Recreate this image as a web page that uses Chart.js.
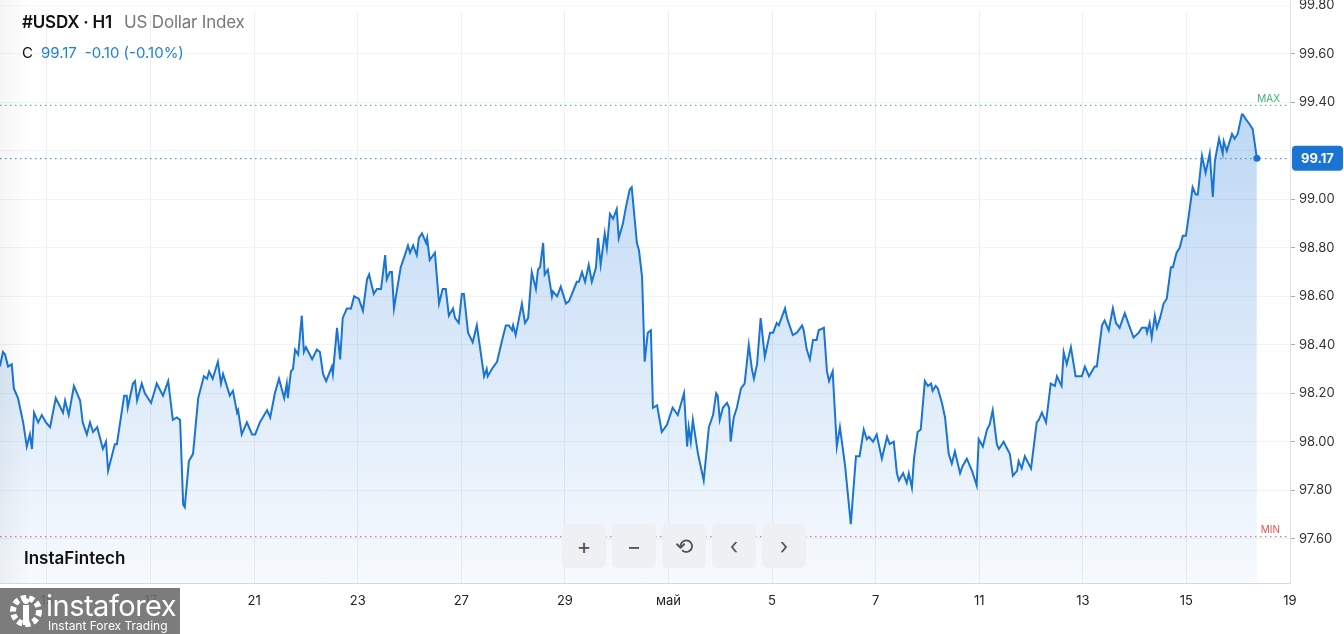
<!DOCTYPE html>
<html><head><meta charset="utf-8">
<script src="https://cdn.jsdelivr.net/npm/chart.js@4.4.1/dist/chart.umd.min.js"></script>
<style>
html,body{margin:0;padding:0;background:#fff;overflow:hidden;font-family:Inter,Roboto,sans-serif}
#wrap{position:relative;width:1344px;height:634px}
canvas{position:absolute;left:0;top:0}
.hdr{position:absolute;left:22px;top:12px;font-size:17px;color:#111;font-weight:600;letter-spacing:-0.2px}
.hdr span{color:#777;font-weight:400;margin-left:12px}
.sub{position:absolute;left:22px;top:43px;font-size:15px;color:#111}
.sub span{color:#1e7fd8;margin-left:8px}
.wm{position:absolute;left:24px;top:548px;font-size:17px;font-weight:600;color:#111}
.btn{position:absolute;top:524px;width:44px;height:44px;border-radius:5px;background:#eef0f3;color:#555;font-size:22px;display:flex;align-items:center;justify-content:center}
.logo{position:absolute;left:0;top:588px;width:180px;height:46px;background:rgba(110,110,110,0.9);color:#fff}
.logo .a{position:absolute;left:46px;top:0px;font-size:29px;letter-spacing:-0.5px}
.logo .b{position:absolute;left:48px;top:30px;font-size:12px}
.fade{position:absolute;left:0;top:0;width:30px;height:583px;background:linear-gradient(to right,rgba(0,0,0,0.04),rgba(255,255,255,0))}
</style></head><body>
<div id="wrap">
<canvas id="c" width="1344" height="634"></canvas>
<div class="fade"></div>
<div class="hdr">#USDX · H1<span>US Dollar Index</span></div>
<div class="sub">C<span>99.17</span><span>-0.10 (-0.10%)</span></div>
<div class="wm">InstaFintech</div>
<div class="btn" style="left:562px">+</div>
<div class="btn" style="left:612px">−</div>
<div class="btn" style="left:662px">⟲</div>
<div class="btn" style="left:712px">‹</div>
<div class="btn" style="left:762px">›</div>
<div class="logo"><svg style="position:absolute;left:8px;top:5px" width="36" height="36" viewBox="0 0 36 36"><circle cx="18" cy="18" r="13" fill="none" stroke="#fff" stroke-width="6" stroke-dasharray="5 3"/><rect x="15" y="12" width="6" height="20" fill="#fff"/><circle cx="18" cy="8" r="3" fill="#fff"/></svg><div class="a">instaforex</div><div class="b">Instant Forex Trading</div></div>
</div>
<script>
// time in trading days from the 15th; values of the index
const times = [-0.91,-0.85,-0.81,-0.75,-0.68,-0.64,-0.56,-0.46,-0.39,-0.33,-0.29,-0.25,-0.17,-0.10,-0.02,0.06,0.17,0.31,0.35,0.42,0.52,0.64,0.69,0.77,0.83,0.89,0.97,1.08,1.14,1.18,1.31,1.35,1.49,1.54,1.56,1.66,1.70,1.74,1.83,1.89,2.01,2.12,2.24,2.34,2.43,2.51,2.57,2.63,2.66,2.74,2.82,2.92,3.03,3.09,3.13,3.20,3.30,3.36,3.40,3.53,3.59,3.67,3.69,3.76,3.86,3.96,4.02,4.11,4.25,4.31,4.40,4.48,4.58,4.63,4.65,4.71,4.75,4.79,4.85,4.92,4.96,5.00,5.12,5.21,5.27,5.33,5.39,
5.50,5.52,5.60,5.66,5.71,5.79,5.87,5.93,6.02,6.10,6.18,6.22,6.31,6.37,6.45,6.53,6.56,6.62,6.66,6.70,6.76,6.83,6.91,6.97,7.01,7.07,7.14,7.18,7.24,7.32,7.34,7.39,7.49,7.57,7.64,7.70,7.76,7.84,7.88,7.95,8.01,8.05,8.13,8.22,8.30,8.44,8.49,8.51,8.59,8.69,8.80,8.86,8.92,8.98,9.00,9.05,9.17,9.23,9.29,9.36,9.44,9.48,9.52,9.58,9.61,9.67,9.75,9.77,9.85,9.92,10.02,10.08,10.23,10.27,10.33,10.39,10.46,10.52,10.60,10.64,10.69,10.77,10.81,10.87,10.93,11.00,11.04,11.12,11.18,11.25,11.29,11.39,11.43,11.49,11.54,11.60,
11.66,11.70,11.78,11.87,11.97,12.08,12.18,12.30,12.36,12.39,12.43,12.47,12.57,12.68,12.78,12.86,12.92,12.95,12.99,13.05,13.13,13.17,13.20,13.26,13.32,13.40,13.47,13.55,13.61,13.65,13.71,13.78,13.86,13.96,14.02,14.09,14.13,14.25,14.29,14.40,14.48,14.58,14.61,14.67,14.73,14.79,14.86,14.90,15.00,15.06,15.10,15.17,15.25,15.31,15.41,15.52,15.62,15.69,15.77,15.83,15.87,15.95,16.02,16.12,16.22,16.27,16.35,16.41,16.45,16.53,16.60,16.64,16.70,16.74,16.81,16.87,16.95,17.01,17.07,17.10,17.16,17.20,17.28,17.34,17.41,17.47,17.53,17.63,
17.68,17.76,17.86,17.95,17.99,18.07,18.15,18.20,18.26,18.34,18.38,18.47,18.59,18.65,18.73,18.76,18.82,18.88,19.00,19.11,19.15,19.21,19.29,19.38,19.46,19.50,19.59,19.63,19.69,19.77,19.86,19.98,20.04,20.12,20.23,20.27,20.37,20.42,20.50,20.58,20.64,20.71,20.81,20.91,20.98,21.08,21.14,21.22,21.24,21.29,21.33,21.39,21.43,21.49,21.56,21.62,21.70,21.74,21.81,21.87,21.93,21.99,22.05,22.12,22.18,22.22,22.30,22.37,22.45,22.51,22.55,22.63,22.70,22.72,22.78,22.88,22.93,22.99,23.07,23.09,23.15,23.22,23.28,23.36];
const values = [98.31,98.37,98.36,98.31,98.32,98.22,98.18,98.08,97.98,98.03,97.97,98.12,98.08,98.11,98.08,98.06,98.18,98.12,98.17,98.11,98.23,98.17,98.08,98.03,98.08,98.04,98.06,97.97,98.00,97.88,97.99,97.99,98.19,98.19,98.14,98.24,98.25,98.17,98.24,98.20,98.16,98.24,98.19,98.25,98.09,98.10,98.09,97.74,97.73,97.92,97.95,98.18,98.27,98.26,98.29,98.26,98.33,98.24,98.28,98.19,98.21,98.12,98.13,98.03,98.08,98.03,98.03,98.08,98.13,98.10,98.20,98.26,98.18,98.24,98.18,98.29,98.30,98.38,98.36,98.52,98.37,98.39,98.34,98.38,98.37,98.28,98.25,
98.31,98.28,98.47,98.34,98.51,98.55,98.55,98.60,98.59,98.54,98.67,98.69,98.61,98.63,98.63,98.77,98.67,98.70,98.70,98.55,98.63,98.72,98.77,98.81,98.78,98.81,98.77,98.84,98.86,98.82,98.84,98.75,98.78,98.57,98.63,98.63,98.52,98.55,98.51,98.49,98.61,98.61,98.45,98.41,98.48,98.27,98.30,98.27,98.30,98.33,98.43,98.48,98.48,98.46,98.48,98.44,98.57,98.49,98.51,98.70,98.63,98.71,98.72,98.82,98.69,98.71,98.60,98.62,98.60,98.64,98.57,98.58,98.66,98.66,98.70,98.66,98.73,98.66,98.72,98.84,98.73,98.86,98.80,98.94,98.92,98.96,98.84,98.90,98.97,99.04,99.05,98.82,98.79,98.68,98.33,98.45,
98.46,98.14,98.15,98.04,98.07,98.14,98.11,98.20,97.98,98.06,98.00,98.09,97.95,97.84,98.06,98.11,98.20,98.19,98.09,98.14,98.16,98.14,98.00,98.10,98.14,98.22,98.24,98.40,98.30,98.26,98.32,98.51,98.35,98.45,98.45,98.49,98.48,98.55,98.51,98.44,98.45,98.48,98.46,98.38,98.34,98.42,98.42,98.46,98.47,98.29,98.25,98.29,97.98,98.06,97.90,97.66,97.94,97.94,98.05,98.01,98.02,98.00,98.03,97.93,98.02,97.99,98.00,97.87,97.84,97.87,97.83,97.87,97.81,97.93,98.04,98.05,98.25,98.23,98.24,98.21,98.23,98.22,98.16,98.10,97.95,97.91,97.96,97.87,
97.90,97.93,97.88,97.82,98.01,97.98,98.05,98.07,98.13,97.99,97.97,98.00,97.95,97.86,97.88,97.92,97.89,97.94,97.89,98.08,98.09,98.12,98.08,98.24,98.23,98.27,98.23,98.37,98.32,98.39,98.27,98.27,98.31,98.27,98.31,98.31,98.48,98.50,98.46,98.55,98.49,98.47,98.53,98.47,98.43,98.45,98.47,98.47,98.45,98.49,98.43,98.52,98.47,98.51,98.57,98.59,98.72,98.72,98.78,98.80,98.85,98.85,98.94,99.05,99.02,99.02,99.18,99.11,99.19,99.01,99.16,99.25,99.19,99.24,99.20,99.27,99.25,99.27,99.35,99.35,99.33,99.31,99.29,99.17];
const xTickPos = [0,2,4,6,8,10,12,14,16,18,20,22,24];
const xTickLabels = ['15','17','21','23','27','29','май','5','7','11','13','15','19'];
const yTicks = [97.6,97.8,98.0,98.2,98.4,98.6,98.8,99.0,99.2,99.4,99.6];
const yTopLabel = 99.8;
const lastPrice = 99.17, maxLevel = 99.39, minLevel = 97.61;

const pts = times.map((t,i)=>({x:t,y:values[i]}));
const overlay = {
  id:'overlay',
  afterDraw(ch){
    const {ctx,chartArea:a,scales:{x,y}} = ch;
    ctx.save();
    // top tick label, partly above the plot
    const ty=y.getPixelForValue(yTopLabel);
    ctx.fillStyle='#333';ctx.font='13px Inter, sans-serif';ctx.textAlign='left';ctx.textBaseline='middle';
    ctx.fillText(yTopLabel.toFixed(2),a.right+9,ty);
    ctx.strokeStyle='#f1f3f6';ctx.lineWidth=1;ctx.beginPath();ctx.moveTo(0,ty+0.5);ctx.lineTo(a.right,ty+0.5);ctx.stroke();
    ctx.strokeStyle='#e0e3e8';ctx.beginPath();ctx.moveTo(a.right+0.5,0);ctx.lineTo(a.right+0.5,a.top);ctx.stroke();
    const hl=(v,col,lab,lcol)=>{
      const py=y.getPixelForValue(v);
      ctx.strokeStyle=col;ctx.lineWidth=1;ctx.setLineDash([1.5,3.5]);
      ctx.beginPath();ctx.moveTo(a.left,py+0.5);ctx.lineTo(a.right,py+0.5);ctx.stroke();
      ctx.setLineDash([]);
      if(lab){ctx.fillStyle=lcol;ctx.font='10px Inter, sans-serif';ctx.textAlign='right';ctx.textBaseline='bottom';ctx.fillText(lab,a.right-10,py-1);}
      return py;
    };
    hl(maxLevel,'#3cb371','MAX','#3cb371');
    hl(minLevel,'#e05555','MIN','#e05555');
    const py=hl(lastPrice,'#1e7fd8');
    const lx=x.getPixelForValue(times[times.length-1]);
    ctx.fillStyle='#1a75d2';ctx.beginPath();ctx.arc(lx,py,3.5,0,Math.PI*2);ctx.fill();
    ctx.fillStyle='#fff';ctx.fillRect(a.right+1,py-14,53,28);
    ctx.fillStyle='#1a75d2';
    const bx=a.right+2,bw=51,bh=25;
    ctx.beginPath();ctx.roundRect(bx,py-bh/2,bw,bh,4);ctx.fill();
    ctx.fillStyle='#fff';ctx.font='bold 13px Inter, sans-serif';ctx.textAlign='center';ctx.textBaseline='middle';
    ctx.fillText(lastPrice.toFixed(2),bx+bw/2,py+1);
    ctx.restore();
  }
};
new Chart(document.getElementById('c'),{
  type:'line',
  data:{datasets:[{data:pts,borderColor:'#1a75d2',borderWidth:2,pointRadius:0,tension:0,fill:'start',
    backgroundColor:(c)=>{const a=c.chart.chartArea;if(!a)return 'rgba(30,120,220,0.2)';
      const g=c.chart.ctx.createLinearGradient(0,a.top+100,0,a.bottom);
      g.addColorStop(0,'rgba(40,125,220,0.30)');g.addColorStop(1,'rgba(40,125,220,0.04)');return g;}}]},
  options:{responsive:false,animation:false,layout:{padding:0},
    plugins:{legend:{display:false},tooltip:{enabled:false}},
    scales:{
      x:{type:'linear',min:-0.907,max:24.0,
        afterBuildTicks(s){s.ticks=xTickPos.map(v=>({value:v}));},
        afterFit(s){s.height=51;},
        grid:{color:'#eceff3',drawTicks:false},border:{color:'#d5d8de'},
        ticks:{padding:10,color:'#222',font:{family:'Inter',size:13},maxRotation:0,autoSkip:false,
          callback:(v)=>{const i=xTickPos.indexOf(v);return i>=0?xTickLabels[i]:'';}}},
      y:{type:'linear',position:'right',min:97.417,max:99.774,
        afterBuildTicks(s){s.ticks=yTicks.map(v=>({value:v}));},
        afterFit(s){s.width=54;},
        grid:{color:'#f1f3f6',drawTicks:true,tickLength:5,tickColor:'#aaa'},border:{color:'#e0e3e8'},
        ticks:{padding:4,color:'#333',font:{family:'Inter',size:13},callback:v=>v.toFixed(2)}}
    }},
  plugins:[overlay]
});
</script>
</body></html>
